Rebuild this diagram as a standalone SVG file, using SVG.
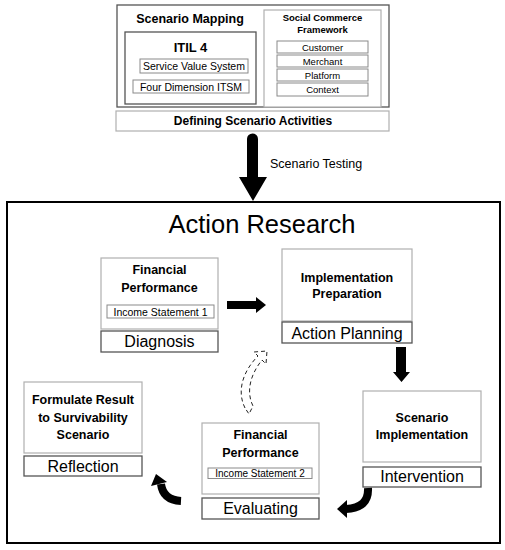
<svg xmlns="http://www.w3.org/2000/svg" width="505" height="550" viewBox="0 0 505 550">
<style>
text{font-family:"Liberation Sans",Arial,sans-serif;fill:#000;text-anchor:middle}
.b{font-weight:bold}
.t125{font-size:12.5px}
.t12{font-size:12px}
.t95{font-size:9.5px}
.t105{font-size:10.5px}
.lab{font-size:16px}
.dark{fill:#fff;stroke:#555;stroke-width:1.3}
.light{fill:#fff;stroke:#b0b0b0;stroke-width:1.2}
.small{fill:#fff;stroke:#8a8a8a;stroke-width:1}
.arrow{fill:#000;stroke:none}
.curve{fill:none;stroke:#000;stroke-width:8}
</style>
<rect x="0" y="0" width="505" height="550" fill="#fff"/>

<g id="scenario-mapping">
  <rect class="dark" x="117" y="5" width="272" height="102"/>
  <text class="b t125" x="190" y="23">Scenario Mapping</text>
  <g id="itil4">
    <rect class="dark" x="125" y="32" width="131" height="72"/>
    <text class="b" style="font-size:13px" x="190.5" y="52">ITIL 4</text>
    <rect class="small" x="140" y="59" width="108" height="14"/>
    <text class="t105" x="194" y="70">Service Value System</text>
    <rect class="small" x="133" y="80" width="116" height="13"/>
    <text class="t105" x="191" y="90.5">Four Dimension ITSM</text>
  </g>
  <g id="social-commerce">
    <rect class="light" x="264" y="10" width="117" height="97"/>
    <text class="b t95" x="322.5" y="21">Social Commerce</text>
    <text class="b t95" x="322.5" y="33">Framework</text>
    <rect class="small" x="277" y="41" width="91" height="12"/>
    <text class="t95" x="322.5" y="51">Customer</text>
    <rect class="small" x="277" y="55" width="91" height="12"/>
    <text class="t95" x="322.5" y="64.5">Merchant</text>
    <rect class="small" x="277" y="69" width="91" height="12"/>
    <text class="t95" x="322.5" y="78.5">Platform</text>
    <rect class="small" x="277" y="83" width="91" height="13"/>
    <text class="t95" x="322.5" y="93">Context</text>
  </g>
</g>

<g id="defining">
  <rect class="light" x="116" y="111" width="273" height="20"/>
  <text class="b t12" x="253" y="125">Defining Scenario Activities</text>
</g>

<g id="action-research">
  <rect x="7" y="202" width="493" height="341" fill="none" stroke="#000" stroke-width="2"/>
  <text style="font-size:25.5px" x="262" y="233">Action Research</text>
</g>

<g id="diagnosis">
  <rect class="light" x="101" y="258" width="117" height="71"/>
  <text class="b t125" x="159.5" y="274">Financial</text>
  <text class="b t125" x="159.5" y="292">Performance</text>
  <rect class="small" x="107" y="305" width="107" height="13"/>
  <text class="t105" x="160.5" y="315.5">Income Statement 1</text>
  <rect class="dark" x="101" y="331" width="117" height="21"/>
  <text class="lab" x="159.5" y="347">Diagnosis</text>
</g>

<g id="action-planning">
  <rect class="light" x="282" y="249" width="130" height="72"/>
  <text class="b t125" x="347" y="281.5">Implementation</text>
  <text class="b t125" x="347" y="297.5">Preparation</text>
  <rect class="dark" x="282" y="322" width="130" height="21"/>
  <text class="lab" x="347" y="338.5">Action Planning</text>
</g>

<g id="intervention">
  <rect class="light" x="363" y="391" width="118" height="71"/>
  <text class="b t125" x="422" y="421.5">Scenario</text>
  <text class="b t125" x="422" y="439">Implementation</text>
  <rect class="dark" x="363" y="467" width="118" height="20"/>
  <text class="lab" x="422" y="482">Intervention</text>
</g>

<g id="evaluating">
  <rect class="light" x="202" y="423" width="117" height="71"/>
  <text class="b t125" x="260.5" y="439">Financial</text>
  <text class="b t125" x="260.5" y="456.5">Performance</text>
  <rect class="small" x="208" y="468" width="104" height="10.5"/>
  <text style="font-size:10px" x="260" y="476.8">Income Statement 2</text>
  <rect class="dark" x="202" y="498" width="117" height="21"/>
  <text class="lab" x="260.5" y="514">Evaluating</text>
</g>

<g id="reflection">
  <rect class="light" x="24" y="382" width="118" height="71"/>
  <text class="b t125" x="83" y="404">Formulate Result</text>
  <text class="b t125" x="83" y="421.5">to Survivability</text>
  <text class="b t125" x="83" y="439">Scenario</text>
  <rect class="dark" x="24" y="456" width="118" height="20"/>
  <text class="lab" x="83" y="472">Reflection</text>
</g>

<g id="connectors">
  <path class="arrow" d="M247,139 A5.5,5.5 0 0 1 258,139 L258,177 L267,177 L253,201 L239,177 L247,177 Z"/>
  <text class="t125" style="text-anchor:start" x="270" y="168">Scenario Testing</text>
  <path class="arrow" d="M227,301 L256,301 L256,297 L266,305 L256,313 L256,309 L227,309 Z"/>
  <path class="arrow" d="M396,347 L406,347 L406,372 L410,372 L401.5,382 L393,372 L396,372 Z"/>
  <path class="curve" d="M368,488 Q369,508 346,509"/>
  <path class="arrow" d="M347,500 L337,509 L347,518 Z"/>
  <path class="curve" d="M181,501 Q163,500 161,484"/>
  <path class="arrow" d="M151,486 L156,474 L167,482 Z"/>
  <path d="M245,408 C236,390 244,370 258,356 L254,352 L267,351 L266,364 L262,360 C250,375 246,392 253,406 L249,414 Z" fill="none" stroke="#222" stroke-width="1" stroke-dasharray="4,3"/>
</g>
</svg>
